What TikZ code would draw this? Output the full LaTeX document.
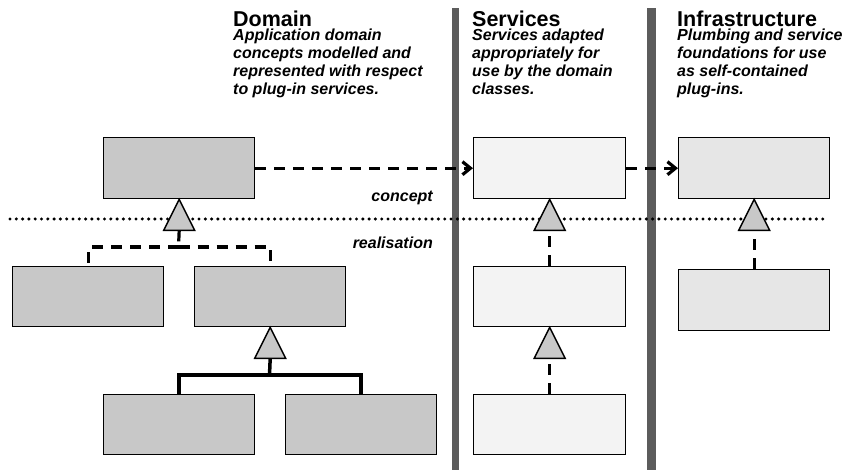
\documentclass[tikz,border=0pt]{standalone}
\usepackage{fontspec}
\setmainfont{Liberation Sans}
\usetikzlibrary{arrows.meta}
\definecolor{domfill}{HTML}{C8C8C8}
\definecolor{svcfill}{HTML}{F3F3F3}
\definecolor{infill}{HTML}{E6E6E6}
\definecolor{barcol}{HTML}{5C5C5C}
\begin{document}
\begin{tikzpicture}[x=1pt,y=-1pt,
  cls/.style={draw=black, line width=1.4pt, minimum width=151pt, minimum height=60pt, inner sep=0pt, anchor=north west},
  dom/.style={cls, fill=domfill},
  svc/.style={cls, fill=svcfill},
  inf/.style={cls, fill=infill},
  tri/.style={draw=black, line width=1.4pt, fill=domfill, line join=miter},
  realize/.style={line width=3.2pt, dash pattern=on 11pt off 8pt},
  inherit/.style={line width=3.5pt},
  uses/.style={line width=3.2pt, dash pattern=on 11pt off 8pt, -{Straight Barb[length=8pt,width=13pt,line width=3.2pt]}},
  sep/.style={line width=3.4pt, line cap=round, dash pattern=on 0pt off 6.3pt},
  bar/.style={fill=barcol, draw=none},
  title/.style={font=\fontsize{21.5}{24}\selectfont\bfseries, anchor=base west, inner sep=0pt},
  desc/.style={font=\fontsize{16}{18}\selectfont\bfseries\itshape, anchor=north west, inner sep=0pt, align=left},
  lvl/.style={font=\fontsize{16}{18}\selectfont\bfseries\itshape, anchor=east, inner sep=0pt}
]
\useasboundingbox (0,0) rectangle (849,470);
\fill[white] (0,0) rectangle (849,470);
% column separators
\fill[bar] (452,8) rectangle (459,470);
\fill[bar] (647,8) rectangle (656,470);

% titles
\node[title] (tD) at (233,26.7) {Domain};
\node[desc] (dD) at (233,28.8) {Application domain\\concepts modelled and\\represented with respect\\to plug-in services.};
\node[title] (tS) at (472,26.7) {Services};
\node[desc] (dS) at (472,28.8) {Services adapted\\appropriately for\\use by the domain\\classes.};
\node[title] (tI) at (677,26.7) {Infrastructure};
\node[desc] (dI) at (677,28.8) {Plumbing and service\\foundations for use\\as self-contained\\plug-ins.};

% separator line
\coordinate (sepL) at (10,219);
\coordinate (sepR) at (823,219);

% boxes
\node[dom, minimum height=61pt] (d0) at (103,137) {};
\node[dom] (d1) at (12,266) {};
\node[dom] (d2) at (194,266) {};
\node[dom] (d3) at (103,394) {};
\node[dom] (d4) at (285,394) {};
\node[svc, minimum width=152pt, minimum height=61pt] (s0) at (473,137) {};
\node[svc, minimum width=152pt] (s1) at (473,266) {};
\node[svc, minimum width=152pt] (s2) at (473,394) {};
\node[inf, minimum height=61pt] (i0) at (678,137) {};
\node[inf, minimum height=61pt] (i1) at (678,269) {};

\draw[sep] (sepL) -- (sepR);

\node[lvl] (lc) at (433,198) {concept};
\node[lvl] (lr) at (433,243) {realisation};

% triangles
\foreach \b/\t in {d0/td0, d2/td2, s0/ts0, s1/ts1, i0/ti0}{
  \draw[tri] (\b.south) -- ++(15.5,31) -- ++(-31,0) -- cycle;
  \path (\b.south) ++(0,31) coordinate (\t);
}

% domain realisation tree
\coordinate (jD) at (178.5,247);
\draw[realize] (td0) -- (jD);
\draw[realize] (jD) -| ([xshift=0.5pt]d1.north);
\draw[realize] (jD) -| (d2.north);

% domain inheritance tree
\coordinate (jI) at (269.5,375);
\draw[inherit] (td2) -- (jI);
\draw[inherit] (jI) -| (d3.north);
\draw[inherit] (jI) -| (d4.north);

% service / infrastructure realisations
\draw[realize] (s1.north) -- (ts0);
\draw[realize] (s2.north) -- (ts1);
\draw[realize] (i1.north) -- (ti0);

% uses arrows
\draw[uses] (d0.east) -- (s0.west);
\draw[uses] (s0.east) -- (i0.west);
\end{tikzpicture}
\end{document}
